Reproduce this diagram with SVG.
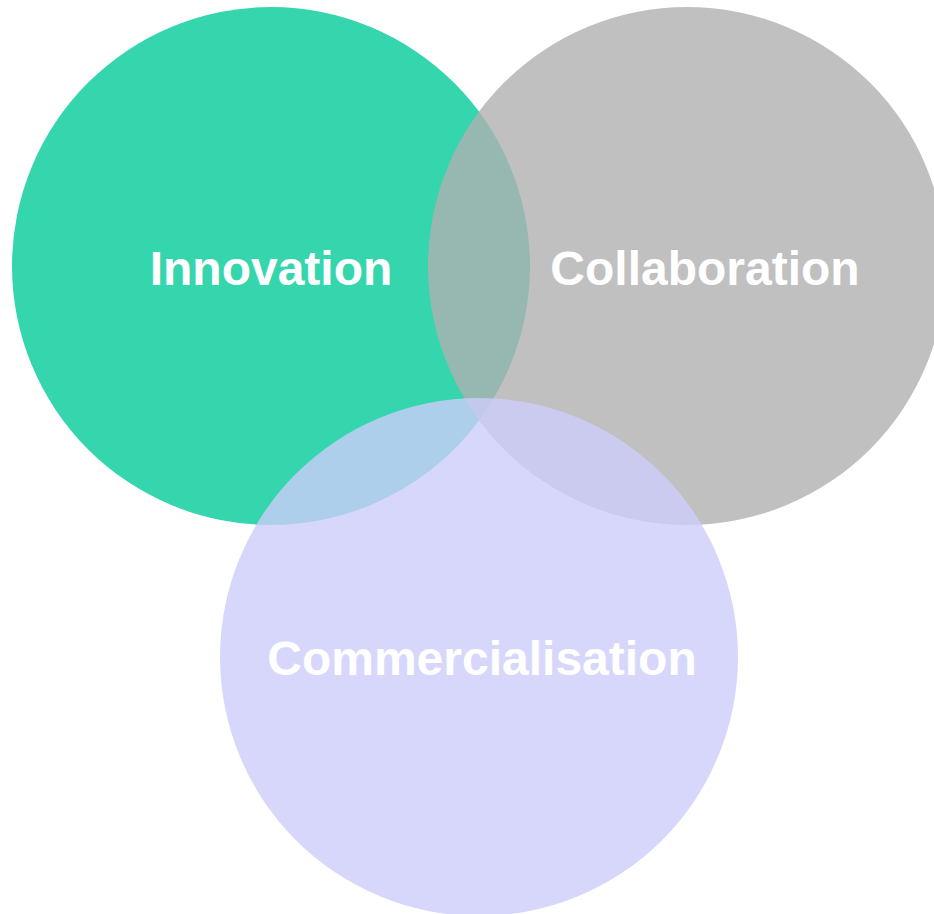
<svg xmlns="http://www.w3.org/2000/svg" width="934" height="914" viewBox="0 0 934 914">
<style>
.lbl{font-family:"Liberation Sans",Arial,sans-serif;font-weight:bold;font-size:48px;fill:#ffffff;text-anchor:middle}
</style>
<rect width="934" height="914" fill="#ffffff"/>
<g id="innovation">
<circle cx="271" cy="266" r="259" fill="#03CC98" fill-opacity="0.8"/>
</g>
<g id="collaboration">
<circle cx="687" cy="266" r="259" fill="#B0B0B0" fill-opacity="0.8"/>
</g>
<g id="commercialisation">
<circle cx="479" cy="657" r="259" fill="#CDCDFB" fill-opacity="0.8"/>
</g>
<g id="labels">
<text class="lbl" x="271" y="285">Innovation</text>
<text class="lbl" x="705" y="285">Collaboration</text>
<text class="lbl" x="482" y="675">Commercialisation</text>
</g>
<g id="connectors"></g>
</svg>
